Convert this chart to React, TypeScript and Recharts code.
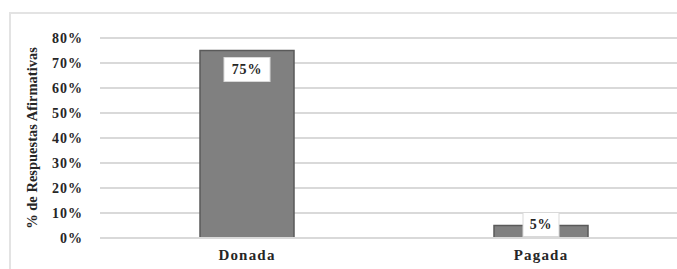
import React from 'react';
import { Bar, BarChart, CartesianGrid, LabelList, XAxis, YAxis } from 'recharts';

const categories = ['Donada', 'Pagada'];
const affirmative = [75, 5];
const yTicks = [0, 10, 20, 30, 40, 50, 60, 70, 80];

const data = categories.map((name, i) => ({ name, value: affirmative[i] }));

const FONT = '"Liberation Serif", "Times New Roman", serif';

function BoxLabel(props: any) {
  const { x, y, width, height, value } = props;
  const text = `${value}%`;
  const boxW = text.length * 10 + 16;
  const boxH = 24;
  const cx = x + width / 2;
  // tall bars: label sits inside near the top; short bars: label over the top edge
  const cy = height > 40 ? y + 19 : y - 1;
  return (
    <g>
      <rect x={cx - boxW / 2} y={cy - boxH / 2} width={boxW} height={boxH} fill="#ffffff" stroke="#d9d9d9" strokeWidth={1} />
      <text
        x={cx}
        y={cy}
        textAnchor="middle"
        dominantBaseline="central"
        fontFamily={FONT}
        fontWeight="bold"
        fontSize={14}
        letterSpacing={0.8}
        fill="#262626"
      >
        {text}
      </text>
    </g>
  );
}

export default function App() {
  return (
    <div style={{ position: 'fixed', left: 0, top: 0, width: 677, height: 269, overflow: 'hidden', background: '#fff' }}>
      <div
        style={{
          position: 'absolute',
          left: 9,
          top: 12,
          width: 720,
          height: 300,
          border: '2px solid #e3e3e3'
        }}
      />
      <div style={{ position: 'absolute', left: 0, top: 0 }}>
        <BarChart width={700} height={269} data={data} margin={{ top: 38, right: 12, left: 10, bottom: 6 }}>
          <CartesianGrid vertical={false} stroke="#d9d9d9" strokeWidth={2} />
          <XAxis
            dataKey="name"
            height={25}
            axisLine={{ stroke: '#d9d9d9', strokeWidth: 2 }}
            tickLine={false}
            tickMargin={5}
            tick={{ fontFamily: FONT, fontWeight: 'bold', fontSize: 15, letterSpacing: 1.2, fill: '#262626' }}
          />
          <YAxis
            width={90}
            domain={[0, 80]}
            ticks={yTicks}
            interval={0}
            axisLine={false}
            tickLine={false}
            tickMargin={11}
            tickFormatter={(v: number) => `${v}%`}
            tick={{ fontFamily: FONT, fontWeight: 'bold', fontSize: 14, letterSpacing: 1, fill: '#262626' }}
            label={{
              value: '% de Respuestas Afirmativas',
              angle: -90,
              position: 'insideLeft',
              offset: 22,
              style: { textAnchor: 'middle', fontFamily: FONT, fontWeight: 'bold', fontSize: 14.5, fill: '#262626' }
            }}
          />
          <Bar dataKey="value" barSize={94} fill="#808080" stroke="#5a5a5a" strokeWidth={1.5} isAnimationActive={false}>
            <LabelList dataKey="value" content={<BoxLabel />} />
          </Bar>
        </BarChart>
      </div>
    </div>
  );
}
